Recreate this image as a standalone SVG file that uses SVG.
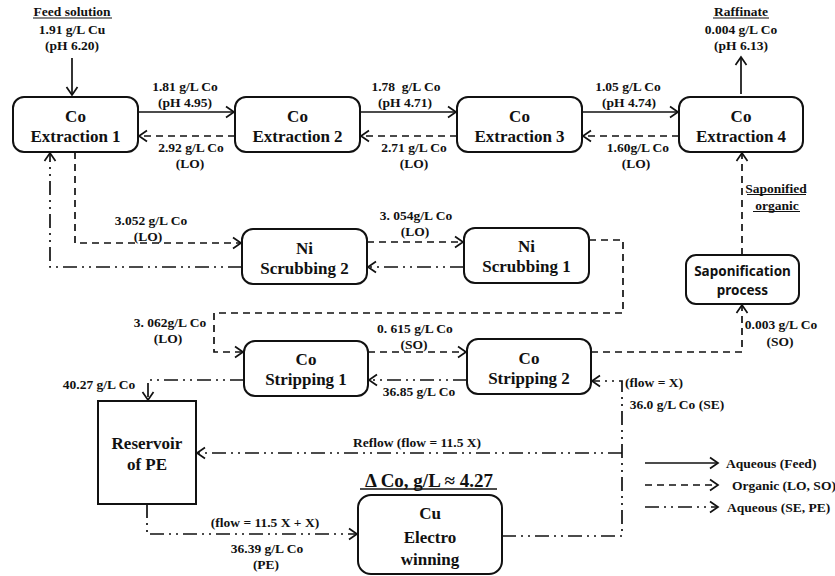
<svg xmlns="http://www.w3.org/2000/svg" width="835" height="576" viewBox="0 0 835 576">
<style>
text{font-family:"Liberation Serif","Times New Roman",serif;font-weight:bold;fill:#111;text-anchor:middle}
.lb{font-size:13.5px}
.bx{font-size:17px}
.sans{font-family:"Noto Sans","Open Sans",sans-serif;font-size:13.5px}
.box{fill:#fff;stroke:#111;stroke-width:2}
.c{fill:none;stroke:#111;stroke-width:1.7}
.sol{}
.dash{stroke-dasharray:7 5}
.dd{stroke-dasharray:14 5 2 5 2 5}
.ul{stroke:#111;stroke-width:1.2}
</style>
<defs>
<marker id="ah" markerUnits="userSpaceOnUse" markerWidth="12" markerHeight="14" viewBox="0 0 12 14" refX="10" refY="7" orient="auto">
<path d="M2,1.5 L10,7 L2,12.5" fill="none" stroke="#111" stroke-width="1.7" stroke-dasharray="none"/>
</marker>
</defs>

<g id="connectors">
<path class="c sol" d="M72,58 V95" marker-end="url(#ah)"/>
<path class="c sol" d="M741,94 V57" marker-end="url(#ah)"/>
<path class="c sol" d="M138,112 H234" marker-end="url(#ah)"/>
<path class="c sol" d="M360,112 H456" marker-end="url(#ah)"/>
<path class="c sol" d="M582,112 H678" marker-end="url(#ah)"/>
<path class="c dash" d="M235,136 H139" marker-end="url(#ah)"/>
<path class="c dash" d="M457,136 H361" marker-end="url(#ah)"/>
<path class="c dash" d="M679,136 H583" marker-end="url(#ah)"/>
<path class="c dash" d="M75,152 V243 H241" marker-end="url(#ah)"/>
<path class="c dd" d="M242,267 H50 V153" marker-end="url(#ah)"/>
<path class="c dash" d="M367,242 H463" marker-end="url(#ah)"/>
<path class="c dd" d="M464,267 H368" marker-end="url(#ah)" style="stroke-width:1.3"/>
<path class="c dash" d="M589,240 H623 V313 H214 V352 H243" marker-end="url(#ah)"/>
<path class="c dash" d="M368,352 H466" marker-end="url(#ah)"/>
<path class="c dd" d="M467,380 H369" marker-end="url(#ah)"/>
<path class="c dash" d="M591,352 H742 V305" marker-end="url(#ah)"/>
<path class="c dash" d="M742,255 V153" marker-end="url(#ah)"/>
<path class="c dd" d="M244,380 H148 V400" marker-end="url(#ah)"/>
<path class="c dd" d="M147,504 V534 H357" marker-end="url(#ah)"/>
<path class="c dd" d="M502,536 H622 V381 H592" marker-end="url(#ah)"/>
<path class="c dd" d="M622,453 H197" marker-end="url(#ah)"/>
</g>

<g id="labels">
<text class="lb" x="72" y="16">Feed solution</text>
<line class="ul" x1="33" y1="18" x2="112" y2="18"/>
<text class="lb" x="72" y="33.5">1.91 g/L Cu</text>
<text class="lb" x="72" y="49.5">(pH 6.20)</text>

<text class="lb" x="741" y="16">Raffinate</text>
<line class="ul" x1="713" y1="18" x2="769" y2="18"/>
<text class="lb" x="741" y="33.5">0.004 g/L Co</text>
<text class="lb" x="741" y="49.5">(pH 6.13)</text>

<text class="lb" x="185" y="90.5">1.81 g/L Co</text>
<text class="lb" x="185" y="106.5">(pH 4.95)</text>
<text class="lb" x="191" y="151.5">2.92 g/L Co</text>
<text class="lb" x="190" y="168">(LO)</text>

<text class="lb" x="406" y="90.5" xml:space="preserve">1.78  g/L Co</text>
<text class="lb" x="405" y="106.5">(pH 4.71)</text>
<text class="lb" x="414" y="151.5">2.71 g/L Co</text>
<text class="lb" x="414" y="168">(LO)</text>

<text class="lb" x="628" y="90.5">1.05 g/L Co</text>
<text class="lb" x="629" y="106.5">(pH 4.74)</text>
<text class="lb" x="638" y="151.5">1.60g/L Co</text>
<text class="lb" x="636" y="168">(LO)</text>

<text class="lb" x="151" y="224.5">3.052 g/L Co</text>
<text class="lb" x="148" y="241">(LO)</text>
<text class="lb" x="416" y="219.5">3. 054g/L Co</text>
<text class="lb" x="415" y="236">(LO)</text>

<text class="lb" x="776" y="192.5">Saponified</text>
<line class="ul" x1="747" y1="194.5" x2="806" y2="194.5"/>
<text class="lb" x="777" y="209.5">organic</text>
<line class="ul" x1="753" y1="211.5" x2="800" y2="211.5"/>

<text class="lb" x="170" y="326.5">3. 062g/L Co</text>
<text class="lb" x="168" y="342.5">(LO)</text>
<text class="lb" x="415" y="332.5">0. 615 g/L Co</text>
<text class="lb" x="414" y="349">(SO)</text>
<text class="lb" x="419" y="395.5">36.85 g/L Co</text>

<text class="lb" x="781" y="328.5">0.003 g/L Co</text>
<text class="lb" x="780" y="345.5">(SO)</text>

<text class="lb" x="99" y="388.5">40.27 g/L Co</text>

<text class="lb" x="654" y="387">(flow = X)</text>
<text class="lb" x="677" y="408.5">36.0 g/L Co (SE)</text>

<text class="lb" x="417" y="446.5">Reflow (flow = 11.5 X)</text>

<text style="font-size:19px" x="429" y="486.5">Δ Co, g/L ≈ 4.27</text>
<line class="ul" x1="360" y1="489" x2="497" y2="489" style="stroke-width:1.5"/>

<text class="lb" x="265" y="526.5">(flow = 11.5 X + X)</text>
<text class="lb" x="267" y="552.5">36.39 g/L Co</text>
<text class="lb" x="266" y="569">(PE)</text>
</g>

<g id="ext1"><rect class="box" x="13" y="97" width="125" height="55" rx="11"/>
<text class="bx" x="75.5" y="122">Co</text><text class="bx" x="75.5" y="142">Extraction 1</text></g>
<g id="ext2"><rect class="box" x="235" y="97" width="125" height="55" rx="11"/>
<text class="bx" x="297.5" y="122">Co</text><text class="bx" x="297.5" y="142">Extraction 2</text></g>
<g id="ext3"><rect class="box" x="457" y="97" width="125" height="55" rx="11"/>
<text class="bx" x="519.5" y="122">Co</text><text class="bx" x="519.5" y="142">Extraction 3</text></g>
<g id="ext4"><rect class="box" x="679" y="97" width="124" height="55" rx="11"/>
<text class="bx" x="741" y="122">Co</text><text class="bx" x="741" y="142">Extraction 4</text></g>

<g id="ni2"><rect class="box" x="242" y="229" width="125" height="55" rx="11"/>
<text class="bx" x="304.5" y="254">Ni</text><text class="bx" x="304.5" y="274">Scrubbing 2</text></g>
<g id="ni1"><rect class="box" x="464" y="228" width="125" height="55" rx="11"/>
<text class="bx" x="526.5" y="252">Ni</text><text class="bx" x="526.5" y="272">Scrubbing 1</text></g>

<g id="sapon"><rect class="box" x="686" y="255" width="113" height="49" rx="10"/>
<text class="sans" x="742.5" y="276">Saponification</text><text class="sans" x="742.5" y="295">process</text></g>

<g id="strip1"><rect class="box" x="244" y="341" width="124" height="55" rx="11"/>
<text class="bx" x="306" y="365">Co</text><text class="bx" x="306" y="385">Stripping 1</text></g>
<g id="strip2"><rect class="box" x="467" y="339" width="124" height="55" rx="11"/>
<text class="bx" x="529" y="364">Co</text><text class="bx" x="529" y="384">Stripping 2</text></g>

<g id="reservoir"><rect class="box" x="98" y="401" width="98" height="103"/>
<text class="bx" x="147" y="449">Reservoir</text><text class="bx" x="147" y="470">of PE</text></g>

<g id="ew"><rect class="box" x="358" y="495" width="144" height="79" rx="13"/>
<text class="bx" x="430" y="519">Cu</text><text class="bx" x="430" y="543">Electro</text><text class="bx" x="430" y="565">winning</text></g>

<g id="legend">
<path class="c sol" d="M645,463 H718" marker-end="url(#ah)"/>
<path class="c dash" d="M645,485 H718" marker-end="url(#ah)"/>
<path class="c dd" d="M645,507 H718" marker-end="url(#ah)"/>
<text class="lb" x="726" y="467.5" style="text-anchor:start">Aqueous (Feed)</text>
<text class="lb" x="732" y="489.5" style="text-anchor:start">Organic (LO, SO)</text>
<text class="lb" x="727" y="511.5" style="text-anchor:start">Aqueous (SE, PE)</text>
</g>
</svg>
